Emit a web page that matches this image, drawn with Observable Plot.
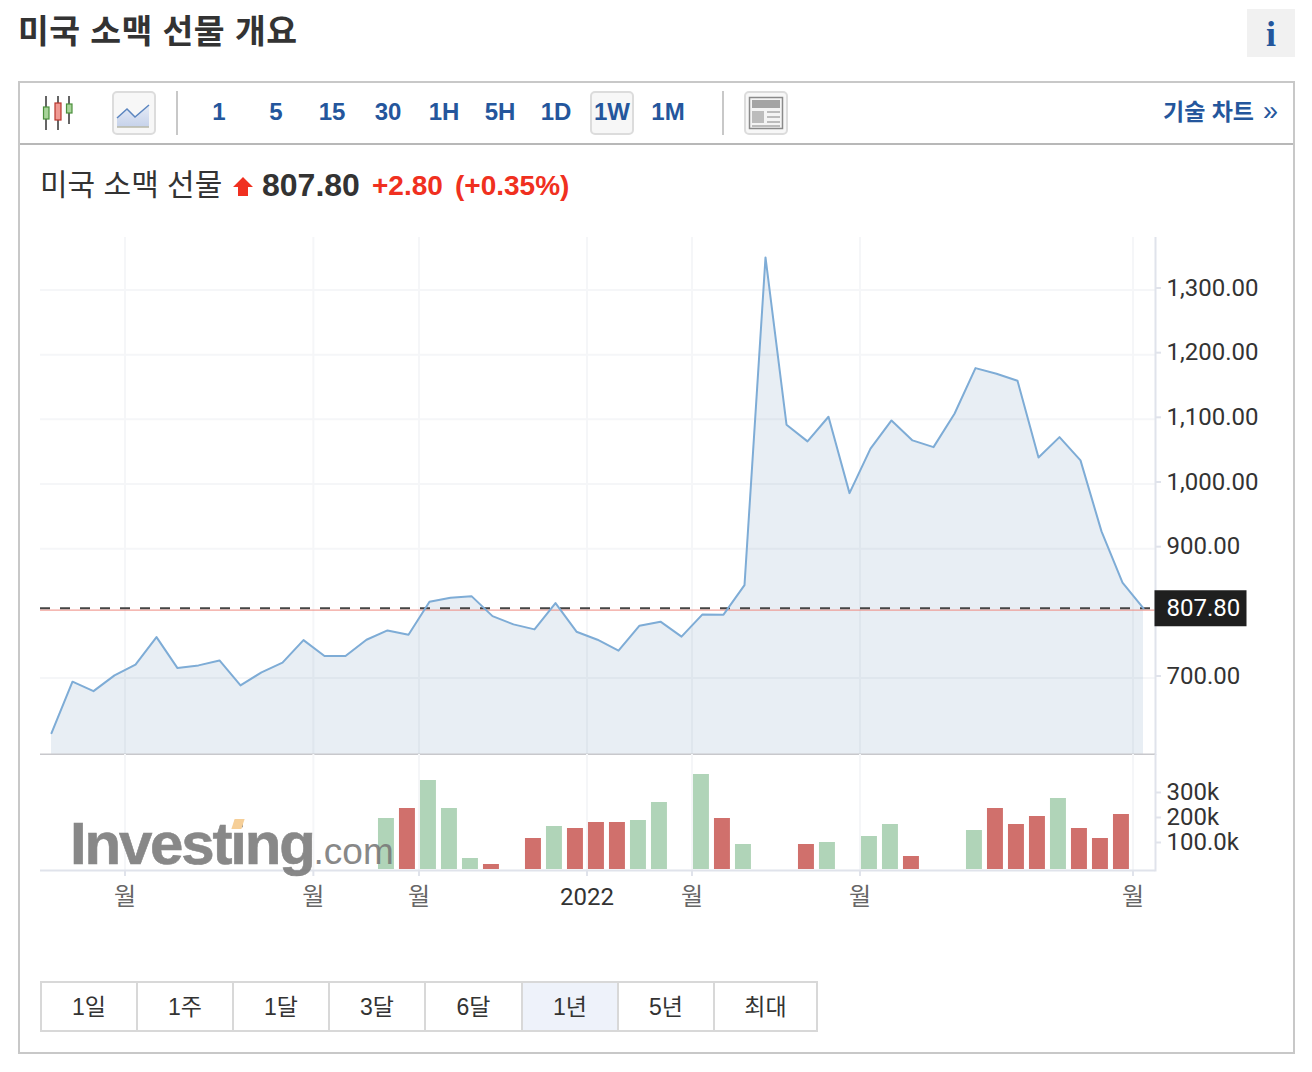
<!DOCTYPE html>
<html lang="ko">
<head>
<meta charset="utf-8">
<script src="https://cdn.jsdelivr.net/npm/d3@7"></script>
<script src="https://cdn.jsdelivr.net/npm/@observablehq/plot@0.6"></script>
<style>
html,body{margin:0;padding:0;background:#fff}
#page{position:relative;width:1312px;height:1072px;overflow:hidden;font-family:"Liberation Sans","Noto Sans CJK KR",sans-serif;color:#333}
.a{position:absolute;white-space:nowrap}
.tf{top:97px;height:30px;line-height:30px;width:60px;text-align:center;font-size:24px;font-weight:700;color:#24569c}
.box{box-sizing:border-box;background:#f7f7f7;border:2px solid #dcdcdc;border-radius:5px;top:91px;width:44px;height:44px}
.sep{top:91px;width:2px;height:44px;background:#c8c8c8}
.rng{box-sizing:border-box;top:981px;height:51px;line-height:49px;text-align:center;font-size:23px;color:#333;border:2px solid #d8d8d8}
svg.plot{position:absolute;overflow:visible}
</style>
</head>
<body>
<div id="page">
  <div class="a" style="left:18px;top:8px;font-size:33.5px;font-weight:700;line-height:48px;letter-spacing:.45px">미국 소맥 선물 개요</div>
  <div class="a" style="left:1247px;top:9px;width:48px;height:48px;background:#f1f1f1;text-align:center;font:700 36px/50px 'Liberation Serif',serif;color:#24569c">i</div>
  <div class="a" style="box-sizing:border-box;left:18px;top:81px;width:1277px;height:973px;border:2px solid #c8c8c8"></div>
  <div class="a" style="left:20px;top:143px;width:1273px;height:2px;background:#b8b8b8"></div>

  <svg class="a" style="left:40px;top:94px" width="38" height="38" viewBox="0 0 38 38">
    <path d="M6 2V36M18 2V36M29 2V30" stroke="#333" stroke-width="1.5" fill="none"/>
    <rect x="3.5" y="13" width="5.5" height="12" fill="#a8d49a" stroke="#4b8f3c" stroke-width="1.2"/>
    <rect x="15" y="9" width="6" height="17" fill="#ef9a94" stroke="#b8342c" stroke-width="1.2"/>
    <rect x="26.5" y="10" width="5.5" height="9" fill="#a8d49a" stroke="#4b8f3c" stroke-width="1.2"/>
  </svg>
  <div class="a box" style="left:112px"></div>
  <svg class="a" style="left:114px;top:93px" width="40" height="40" viewBox="0 0 40 40">
    <defs><linearGradient id="g" x1="0" y1="0" x2="0" y2="1"><stop offset="0" stop-color="#e6ecf7"/><stop offset="1" stop-color="#c6d2ea"/></linearGradient></defs>
    <path d="M3 25L13 16L21 24L35 12V34H3Z" fill="url(#g)"/>
    <path d="M3 25L13 16L21 24L35 12" stroke="#5c86c0" stroke-width="1.5" fill="none"/>
    <path d="M3 34H35" stroke="#b8b8a8" stroke-width="1.5"/>
  </svg>
  <div class="a sep" style="left:176px"></div>
  <div class="a box" style="left:590px"></div>
  <div class="a tf" style="left:189px">1</div>
  <div class="a tf" style="left:246px">5</div>
  <div class="a tf" style="left:302px">15</div>
  <div class="a tf" style="left:358px">30</div>
  <div class="a tf" style="left:414px">1H</div>
  <div class="a tf" style="left:470px">5H</div>
  <div class="a tf" style="left:526px">1D</div>
  <div class="a tf" style="left:582px">1W</div>
  <div class="a tf" style="left:638px">1M</div>
  <div class="a sep" style="left:722px"></div>
  <div class="a box" style="left:744px"></div>
  <svg class="a" style="left:746px;top:93px" width="40" height="40" viewBox="0 0 40 40">
    <rect x="3.5" y="4.5" width="33" height="31" fill="#f4f4f4" stroke="#8a8a8a" stroke-width="1.5"/>
    <rect x="6" y="7" width="28" height="8" fill="#a4a4a4"/>
    <rect x="6" y="18" width="12" height="12" fill="#bcbcbc"/>
    <path d="M21 19H34M21 24H34M21 29H34M6 33H34" stroke="#bcbcbc" stroke-width="2"/>
  </svg>
  <div class="a" style="left:1163px;top:97px;line-height:30px;font-size:23px;font-weight:700;color:#24569c">기술 차트</div>
  <div class="a" style="left:1263px;top:96px;line-height:30px;font-size:27px;color:#24569c">»</div>

  <div class="a" style="left:40px;top:164px;line-height:42px;font-size:30px;color:#333">미국 소맥 선물</div>
  <svg class="a" style="left:233px;top:176px" width="20" height="20" viewBox="0 0 20 20"><path d="M10 1L20 11H15V20H5V11H0Z" fill="#f03020"/></svg>
  <div class="a" id="lastPrice" style="left:262px;top:165px;line-height:40px;font-size:32px;font-weight:700;color:#333"></div>
  <div class="a" id="chg" style="left:372px;top:166px;line-height:40px;font-size:28px;font-weight:700;color:#f03020"></div>
  <div class="a" id="pct" style="left:455px;top:166px;line-height:40px;font-size:28px;font-weight:700;color:#f03020"></div>

  <div id="charts"></div>

  <div class="a" style="left:70px;top:809px;font:700 60px/70px 'Liberation Sans',sans-serif;color:#787878;opacity:.88;letter-spacing:-2.2px;-webkit-text-stroke:.6px #787878">Investing<span style="font:400 37px/70px 'Liberation Sans',sans-serif;letter-spacing:0;-webkit-text-stroke:0">.com</span></div>
  <div class="a" style="left:233px;top:819px;width:10px;height:10px;background:#f6cf98;transform:skewX(-18deg)"></div>

  <div id="ranges"></div>
</div>
<script>
// Weekly closing prices, one per week
const priceValues = [
  614.8, 694.3, 679.7, 704.0, 720.6, 763.2, 715.3, 719.5, 727.2, 688.6,
  708.7, 723.7, 758.6, 733.9, 733.9, 759.2, 773.6, 767.0, 818.0, 824.2,
  826.6, 795.7, 782.9, 775.2, 815.8, 771.6, 759.2, 742.2, 780.9, 787.1,
  763.9, 798.3, 797.9, 843.6, 1350.4, 1091.7, 1065.9, 1104.0, 985.9, 1054.6,
  1098.3, 1067.4, 1057.0, 1108.7, 1179.2, 1170.6, 1159.7, 1041.1, 1072.5, 1036.5,
  926.7, 847.4, 807.8
];
// Volume bars: week index, volume, and whether the bar is green
const volumeWeeks = [16,17,18,19,20,21,23,24,25,26,27,28,29,31,32,33,36,37,39,40,41,44,45,46,47,48,49,50,51];
const volumeValues = [204000,244000,356000,244000,44000,20000,124000,172000,164000,188000,188000,196000,268000,380000,204000,100000,100000,108000,132000,180000,52000,156000,244000,180000,212000,284000,164000,124000,220000];
const volumeUp = [1,0,1,1,1,0,0,1,0,0,0,1,1,1,0,1,0,1,1,1,0,1,0,0,0,1,0,0,0];
// Axis ticks
const priceTicks = [700, 900, 1000, 1100, 1200, 1300];
const volumeTicks = [100000, 200000, 300000];
const volumeTickLabels = ["100.0k", "200k", "300k"];
const monthTicks = [3.5, 12.47, 17.5, 30.5, 38.5, 51.5];
const yearTicks = [25.5];
const monthLabel = "월";
const yearLabel = "2022";
// Quote
const lastPrice = 807.8;
const prevClose = 805.0;
const changeText = "+2.80";
const percentText = "(+0.35%)";
const rangeLabels = ["1일", "1주", "1달", "3달", "6달", "1년", "5년", "최대"];
const activeRange = "1년";

const weeks = priceValues.map((v, i) => ({i, v}));
const bars = volumeWeeks.map((w, k) => ({w, v: volumeValues[k], dir: volumeUp[k] ? "up" : "down"}));

const PAGE_W = 1312, FRAME_L = 40, FRAME_R = 157;
const xScale = {domain: [0, priceValues.length - 1], range: [51, 1143], axis: null};
const AXIS_FONT = "24px Roboto,'Noto Sans CJK KR',sans-serif";
const GRID = "#f5f6f8", EDGE = "#e0e3eb";
const yMin = 581.7, yMax = 1381.2;

document.getElementById("lastPrice").textContent = lastPrice.toFixed(2);
document.getElementById("chg").textContent = changeText;
document.getElementById("pct").textContent = percentText;

const pricePlot = Plot.plot({
  width: PAGE_W, height: 518,
  marginLeft: FRAME_L, marginRight: FRAME_R, marginTop: 0, marginBottom: 1,
  style: {font: AXIS_FONT, color: "#333", background: "transparent", left: "0px", top: "237px", position: "absolute"},
  x: xScale,
  y: {domain: [yMin, yMax], range: [517, 0], axis: null},
  marks: [
    Plot.gridY(priceTicks, {stroke: GRID, strokeOpacity: 1, strokeWidth: 2}),
    Plot.gridX(monthTicks.concat(yearTicks), {stroke: GRID, strokeOpacity: 1, strokeWidth: 2}),
    Plot.areaY(weeks, {x: "i", y1: yMin, y2: "v", fill: "#3c6ea0", fillOpacity: 0.118}),
    Plot.ruleY([prevClose], {stroke: "#ee8a80", strokeWidth: 1}),
    Plot.ruleY([lastPrice], {stroke: "#444", strokeWidth: 2, strokeDasharray: "10,10"}),
    Plot.lineY(weeks, {x: "i", y: "v", stroke: "#7eacd6", strokeWidth: 2}),
    Plot.axisY(priceTicks, {anchor: "right", tickSize: 5, tickPadding: 6, stroke: EDGE, strokeWidth: 2, fill: "#333",
      tickFormat: d3.format(",.2f"), label: null, dy: -2}),
    Plot.frame({anchor: "right", stroke: EDGE, strokeWidth: 2}),
    Plot.ruleY([yMin], {stroke: "#c8c8cc", strokeWidth: 2}),
    Plot.dot([lastPrice], {y: d => d, frameAnchor: "right", fill: "#1f1f1f",
      symbol: {draw(c) { c.rect(-1, -18, 92, 36); }}}),
    Plot.text([lastPrice], {y: d => d, frameAnchor: "right", textAnchor: "start", dx: 11, fill: "#fff",
      text: d => d.toFixed(2)})
  ]
});

const volumePlot = Plot.plot({
  width: PAGE_W, height: 170,
  marginLeft: FRAME_L, marginRight: FRAME_R, marginTop: 0, marginBottom: 54,
  style: {font: AXIS_FONT, color: "#333", background: "transparent", left: "0px", top: "754px", position: "absolute"},
  x: xScale,
  y: {domain: [0, 400000], range: [115, 15], axis: null},
  color: {domain: ["up", "down"], range: ["#b0d4b8", "#d0706c"]},
  marks: [
    Plot.gridX(monthTicks.concat(yearTicks), {stroke: GRID, strokeOpacity: 1, strokeWidth: 2}),
    Plot.rectY(bars, {x1: d => d.w - 0.43, x2: d => d.w + 0.33, y1: 0, y2: "v", fill: "dir"}),
    Plot.frame({anchor: "right", stroke: EDGE, strokeWidth: 2}),
    Plot.ruleY([0], {dy: 1, stroke: EDGE, strokeWidth: 2}),
    Plot.axisY(volumeTicks, {anchor: "right", tickSize: 5, tickPadding: 6, stroke: EDGE, strokeWidth: 2, fill: "#333",
      tickFormat: d => volumeTickLabels[volumeTicks.indexOf(d)], label: null, dy: -2}),
    Plot.axisX(monthTicks, {anchor: "bottom", tickSize: 6, tickPadding: 11, stroke: EDGE, strokeWidth: 2, fill: "#666",
      tickFormat: () => monthLabel, label: null}),
    Plot.axisX(yearTicks, {anchor: "bottom", tickSize: 6, tickPadding: 11, stroke: EDGE, strokeWidth: 2, fill: "#333",
      tickFormat: () => yearLabel, label: null})
  ]
});

const charts = document.getElementById("charts");
charts.append(pricePlot, volumePlot);

const ranges = document.getElementById("ranges");
const edges = [40, 136, 232, 328, 424, 521, 617, 713, 818];
rangeLabels.forEach((label, k) => {
  const el = document.createElement("div");
  el.className = "a rng";
  el.textContent = label;
  el.style.left = edges[k] + "px";
  el.style.width = (edges[k + 1] - edges[k] + (k < rangeLabels.length - 1 ? 2 : 0)) + "px";
  if (label === activeRange) el.style.background = "#eef2fa";
  ranges.append(el);
});
</script>
</body>
</html>
